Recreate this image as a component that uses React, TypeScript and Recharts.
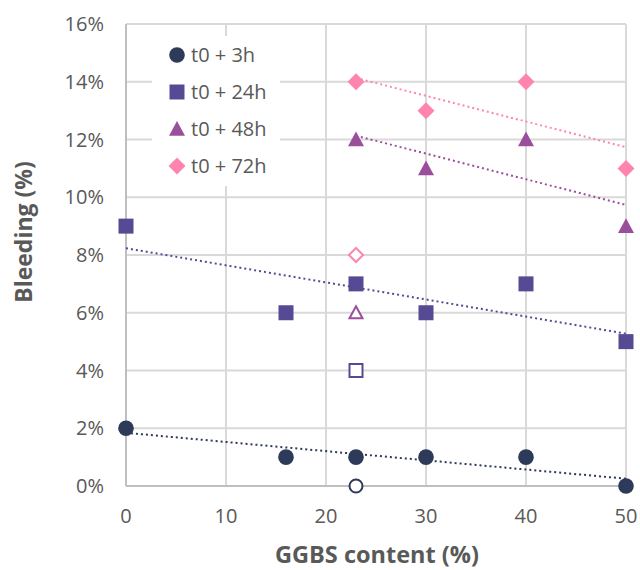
import { CartesianGrid, Legend, Scatter, ScatterChart, XAxis, YAxis } from 'recharts';

// GGBS content (%) and bleeding (%)
const ggbsEarly = [0, 16, 23, 30, 40, 50];
const bleed3h = [2, 1, 1, 1, 1, 0];
const bleed24h = [9, 6, 7, 6, 7, 5];
const ggbsLate = [23, 30, 40, 50];
const bleed48h = [12, 11, 12, 9];
const bleed72h = [14, 13, 14, 11];

// open (outlier) markers, all at 23% GGBS
const openGgbs = 23;
const open3h = 0;
const open24h = 4;
const open48h = 6;
const open72h = 8;

const seriesNames = ['t0 + 3h', 't0 + 24h', 't0 + 48h', 't0 + 72h'];
const xTicks = [0, 10, 20, 30, 40, 50];
const yTicks = [0, 2, 4, 6, 8, 10, 12, 14, 16];

const C3 = '#2e3a59';
const C24 = '#574a94';
const C48 = '#9a4f9b';
const C72 = '#ff85b0';
const TEXT = '#595959';
const FONT = '"Open Sans", Lato, sans-serif';

const zip = (xs: number[], ys: number[]) => xs.map((x, i) => ({ x, y: ys[i] }));

// least-squares trendline, ends at the first and last x
function trend(xs: number[], ys: number[]) {
  const n = xs.length;
  const mx = xs.reduce((a, b) => a + b, 0) / n;
  const my = ys.reduce((a, b) => a + b, 0) / n;
  let sxy = 0;
  let sxx = 0;
  xs.forEach((x, i) => {
    sxy += (x - mx) * (ys[i] - my);
    sxx += (x - mx) * (x - mx);
  });
  const b = sxy / sxx;
  const a = my - b * mx;
  const lo = Math.min(...xs);
  const hi = Math.max(...xs);
  return [
    { x: lo, y: a + b * lo },
    { x: hi, y: a + b * hi },
  ];
}

type Mk = { cx: number; cy: number; fill: string; open?: boolean };

const markCircle = ({ cx, cy, fill, open }: Mk) =>
  open ? (
    <circle cx={cx} cy={cy} r={6.5} fill="#fff" stroke={fill} strokeWidth={2} />
  ) : (
    <circle cx={cx} cy={cy} r={7.8} fill={fill} />
  );

const markSquare = ({ cx, cy, fill, open }: Mk) =>
  open ? (
    <rect x={cx - 6.5} y={cy - 6.5} width={13} height={13} fill="#fff" stroke={fill} strokeWidth={2} />
  ) : (
    <rect x={cx - 7.5} y={cy - 7.5} width={15} height={15} fill={fill} />
  );

const markTriangle = ({ cx, cy, fill, open }: Mk) => {
  const h = open ? 6.5 : 8;
  const pts = `${cx},${cy - h} ${cx + h},${cy + h * 0.85} ${cx - h},${cy + h * 0.85}`;
  return open ? (
    <polygon points={pts} fill="#fff" stroke={fill} strokeWidth={2} />
  ) : (
    <polygon points={pts} fill={fill} />
  );
};

const markDiamond = ({ cx, cy, fill, open }: Mk) => {
  const h = open ? 7 : 8.5;
  const pts = `${cx},${cy - h} ${cx + h},${cy} ${cx},${cy + h} ${cx - h},${cy}`;
  return open ? (
    <polygon points={pts} fill="#fff" stroke={fill} strokeWidth={2} />
  ) : (
    <polygon points={pts} fill={fill} />
  );
};

const legendIcons: Record<string, (p: Mk) => any> = {
  't0 + 3h': markCircle,
  't0 + 24h': markSquare,
  't0 + 48h': markTriangle,
  't0 + 72h': markDiamond,
};

function LegendBox({ payload }: any) {
  const items = payload || [];
  return (
    <div style={{ background: '#fff', fontFamily: FONT, fontSize: 20, color: TEXT, height: 150 }}>
      {seriesNames.map((name) => {
        const entry = items.find((p: any) => p.value === name);
        if (!entry) return null;
        const Icon = legendIcons[name];
        return (
          <div key={name} style={{ display: 'flex', alignItems: 'center', height: 37 }}>
            <svg width={18} height={18} style={{ marginLeft: 16 }}>
              {Icon({ cx: 9, cy: 9, fill: entry.color })}
            </svg>
            <span style={{ marginLeft: 5, lineHeight: '20px' }}>{name}</span>
          </div>
        );
      })}
    </div>
  );
}

const dotted = (stroke: string) => ({ stroke, strokeWidth: 2, strokeDasharray: '2 3' });
const noMark = () => <g />;

export default function App() {
  return (
    <div style={{ position: 'absolute', left: 0, top: 0, width: 640, height: 570, background: '#fff' }}>
      <ScatterChart width={640} height={570} margin={{ top: 24, right: 14, bottom: 24, left: 0 }}>
        <CartesianGrid stroke="#d9d9d9" strokeWidth={2} />
        <XAxis
          type="number"
          dataKey="x"
          domain={[0, 50]}
          ticks={xTicks}
          height={60}
          axisLine={{ stroke: '#bfbfbf', strokeWidth: 2 }}
          tickLine={false}
          tickSize={0}
          tickMargin={23}
          tick={{ fill: TEXT, fontSize: 20, fontFamily: FONT }}
          label={{
            content: () => (
              <text x={377} y={563} textAnchor="middle" fill={TEXT} fontSize={23.5} fontWeight={700} fontFamily={FONT}>
                GGBS content (%)
              </text>
            ),
          }}
        />
        <YAxis
          type="number"
          dataKey="y"
          domain={[0, 16]}
          ticks={yTicks}
          width={126}
          axisLine={{ stroke: '#bfbfbf', strokeWidth: 2 }}
          tickLine={false}
          tickSize={0}
          tickMargin={22}
          tickFormatter={(v: number) => `${v}%`}
          tick={{ fill: TEXT, fontSize: 20, fontFamily: FONT }}
          label={{
            content: () => (
              <text
                x={32}
                y={232}
                transform="rotate(-90 32 232)"
                textAnchor="middle"
                fill={TEXT}
                fontSize={23}
                fontWeight={700}
                fontFamily={FONT}
              >
                Bleeding (%)
              </text>
            ),
          }}
        />
        <Legend
          layout="horizontal"
          verticalAlign="middle"
          align="center"
          content={<LegendBox />}
          wrapperStyle={{ top: 36, left: 152, width: 128, height: 150, overflow: 'hidden' }}
        />

        <Scatter data={trend(ggbsEarly, bleed3h)} line={dotted(C3)} shape={noMark} legendType="none" isAnimationActive={false} />
        <Scatter data={trend(ggbsEarly, bleed24h)} line={dotted(C24)} shape={noMark} legendType="none" isAnimationActive={false} />
        <Scatter data={trend(ggbsLate, bleed48h)} line={dotted(C48)} shape={noMark} legendType="none" isAnimationActive={false} />
        <Scatter data={trend(ggbsLate, bleed72h)} line={dotted(C72)} shape={noMark} legendType="none" isAnimationActive={false} />

        <Scatter name="t0 + 3h" data={zip(ggbsEarly, bleed3h)} fill={C3} shape={markCircle} isAnimationActive={false} />
        <Scatter name="t0 + 24h" data={zip(ggbsEarly, bleed24h)} fill={C24} shape={markSquare} isAnimationActive={false} />
        <Scatter name="t0 + 48h" data={zip(ggbsLate, bleed48h)} fill={C48} shape={markTriangle} isAnimationActive={false} />
        <Scatter name="t0 + 72h" data={zip(ggbsLate, bleed72h)} fill={C72} shape={markDiamond} isAnimationActive={false} />

        <Scatter data={[{ x: openGgbs, y: open3h }]} fill={C3} shape={(p: any) => markCircle({ ...p, open: true })} legendType="none" isAnimationActive={false} />
        <Scatter data={[{ x: openGgbs, y: open24h }]} fill={C24} shape={(p: any) => markSquare({ ...p, open: true })} legendType="none" isAnimationActive={false} />
        <Scatter data={[{ x: openGgbs, y: open48h }]} fill={C48} shape={(p: any) => markTriangle({ ...p, open: true })} legendType="none" isAnimationActive={false} />
        <Scatter data={[{ x: openGgbs, y: open72h }]} fill={C72} shape={(p: any) => markDiamond({ ...p, open: true })} legendType="none" isAnimationActive={false} />
      </ScatterChart>
    </div>
  );
}
